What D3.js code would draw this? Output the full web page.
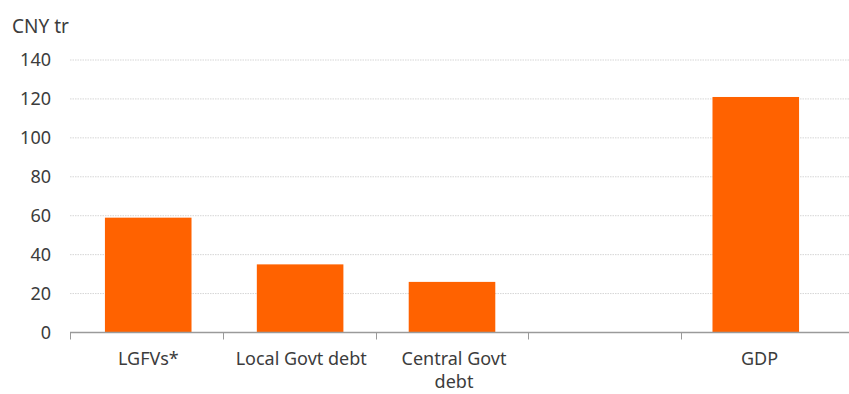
<!DOCTYPE html>
<html><head><meta charset="utf-8">
<script src="https://cdn.jsdelivr.net/npm/d3@7"></script>
<style>
body{margin:0;background:#fff;}
text{font-family:"Noto Sans",Lato,sans-serif;fill:#3c3c3c;}
</style></head>
<body><svg id="c" width="849" height="394"></svg>
<script>
const categories = ["LGFVs*", "Local Govt debt", "Central Govt debt", "", "GDP"];
const labelLines = [["LGFVs*"], ["Local Govt debt"], ["Central Govt", "debt"], [""], ["GDP"]];
const values = [59, 35, 26, null, 121];
const yTicks = [0, 20, 40, 60, 80, 100, 120, 140];
const unitLabel = "CNY tr";

const svg = d3.select("#c");
const W = 849, H = 394;
const x = d3.scaleBand().domain(d3.range(categories.length)).range([70, 834]).paddingInner(0.43).paddingOuter(0.23);
const xb = d3.scaleBand().domain(d3.range(categories.length)).range([70, 834]);
const y = d3.scaleLinear().domain([0, 140]).range([332.5, 60]);

// gridlines
svg.append("g").selectAll("line").data(yTicks.filter(d=>d>0)).join("line")
  .attr("x1", 70).attr("x2", W).attr("y1", d=>y(d)).attr("y2", d=>y(d))
  .attr("stroke", "#d6d6d6").attr("stroke-width", 1).attr("stroke-dasharray", "1.5,1");

// y labels
svg.append("g").selectAll("text").data(yTicks).join("text")
  .attr("x", 51).attr("y", d=>y(d)).attr("dy", "0.35em").attr("text-anchor", "end")
  .attr("font-size", 18).text(d=>d);

svg.append("text").attr("x", 12).attr("y", 33).attr("font-size", 19).text(unitLabel);

// bars
svg.append("g").selectAll("rect").data(values.map((v,i)=>({v,i})).filter(d=>d.v!=null)).join("rect")
  .attr("x", d=>x(d.i)).attr("width", x.bandwidth())
  .attr("y", d=>y(d.v)).attr("height", d=>y(0)-y(d.v))
  .attr("fill", "#ff6200");

// axis line and ticks
svg.append("line").attr("x1", 70).attr("x2", W).attr("y1", y(0)).attr("y2", y(0))
  .attr("stroke", "#9a9a9a").attr("stroke-width", 1.5);
svg.append("g").selectAll("line").data(d3.range(categories.length)).join("line")
  .attr("x1", d=>Math.round(xb(d))+0.5).attr("x2", d=>Math.round(xb(d))+0.5)
  .attr("y1", y(0)).attr("y2", y(0)+7).attr("stroke", "#9a9a9a").attr("stroke-width", 1);

// category labels
const cl = svg.append("g").selectAll("text").data(labelLines).join("text")
  .attr("text-anchor", "middle").attr("font-size", 18)
  .attr("x", (d,i)=>xb(i)+xb.bandwidth()/2 + 2).attr("y", 365);
cl.selectAll("tspan").data(d=>d).join("tspan")
  .attr("x", function(){return this.parentNode.getAttribute("x");})
  .attr("dy", (d,j)=>j===0?0:23).text(d=>d);
</script></body></html>
